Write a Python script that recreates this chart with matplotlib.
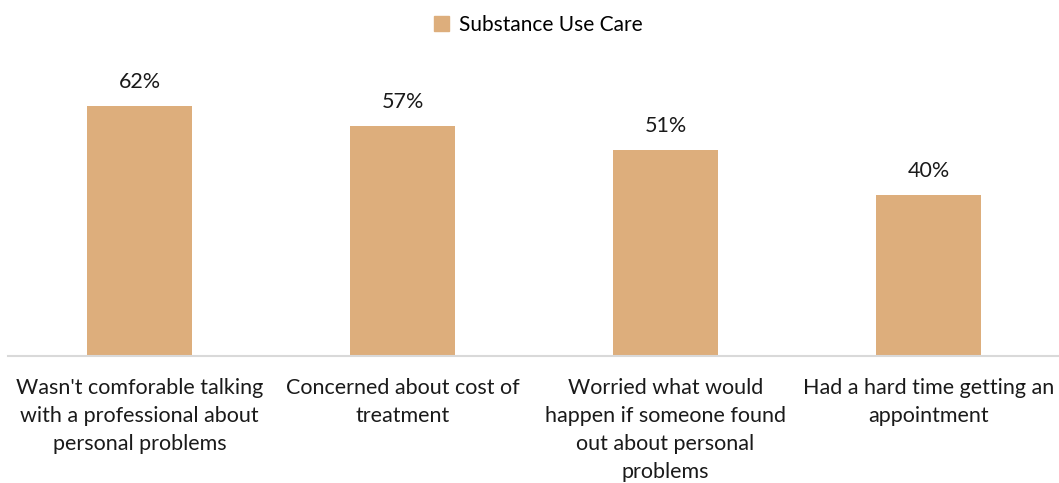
import matplotlib.pyplot as plt
from matplotlib.patches import Patch

plt.rcParams['font.family'] = ['Lato', 'DejaVu Sans']

categories = [
    "Wasn't comforable talking\nwith a professional about\npersonal problems",
    "Concerned about cost of\ntreatment",
    "Worried what would\nhappen if someone found\nout about personal\nproblems",
    "Had a hard time getting an\nappointment",
]
values = [62, 57, 51, 40]
series_name = "Substance Use Care"
bar_color = "#DDAE7C"

fig = plt.figure(figsize=(10.59, 4.83), dpi=100)
ax = fig.add_axes([8 / 1059, 127 / 483, 1052 / 1059, 322.6 / 483])

x = range(len(categories))
bars = ax.bar(x, values, width=0.4, color=bar_color)

for b, v in zip(bars, values):
    ax.annotate(f"{v}%", (b.get_x() + b.get_width() / 2, v),
                xytext=(0, 10), textcoords="offset points",
                ha="center", va="bottom", fontsize=15.5, color="#1a1a1a")

ax.set_xlim(-0.5, 3.5)
ax.set_ylim(0, 80)
ax.set_yticks([])
ax.set_xticks(list(x))
ax.set_xticklabels(categories, fontsize=15.5, color="#1a1a1a", linespacing=1.52)
ax.tick_params(axis="x", length=0, pad=15.5)

for side in ["top", "right", "left"]:
    ax.spines[side].set_visible(False)
ax.spines["bottom"].set_color("#d9d9d9")
ax.spines["bottom"].set_linewidth(1.5)

fig.legend(handles=[Patch(color=bar_color, label=series_name)],
           loc="upper center", bbox_to_anchor=(538 / 1059, 1.008),
           frameon=False, fontsize=15, handlelength=0.75, handleheight=0.75,
           handletextpad=0.45)

fig.savefig("out.png", dpi=100)
